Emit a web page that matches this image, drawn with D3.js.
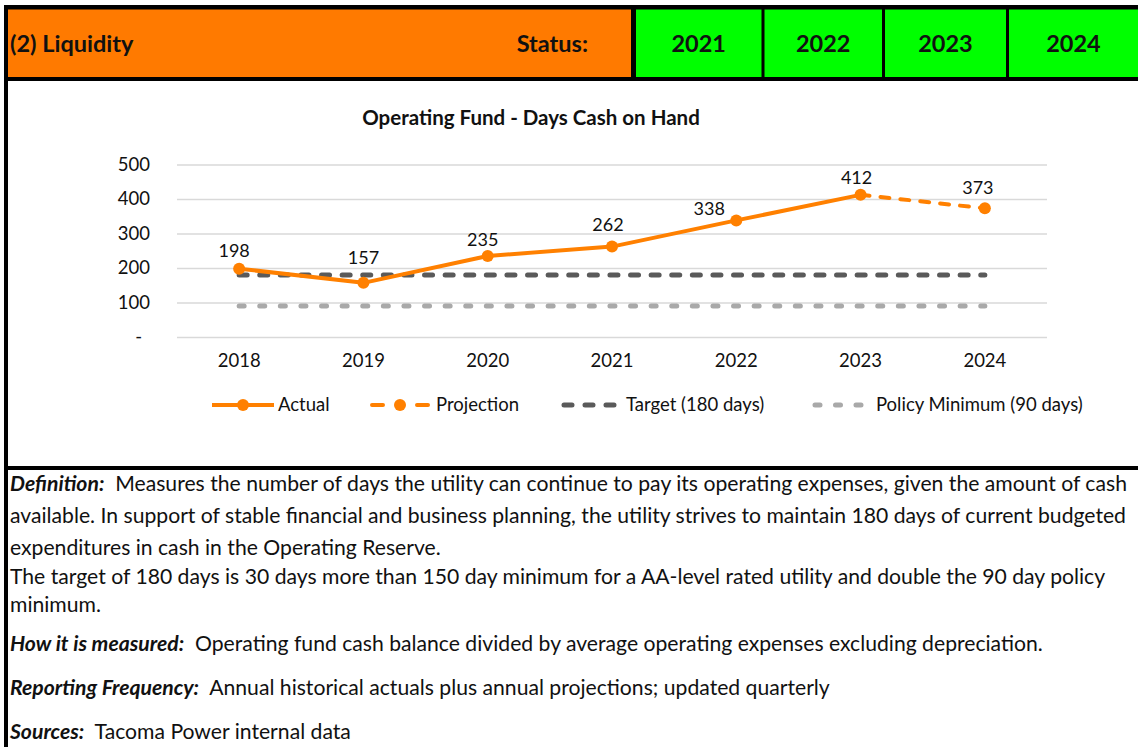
<!DOCTYPE html>
<html>
<head>
<meta charset="utf-8">
<script src="https://cdn.jsdelivr.net/npm/d3@7"></script>
<style>
  body { margin: 0; background: #fff; }
  svg { display: block; font-family: Lato, "Open Sans", sans-serif; }
</style>
</head>
<body>
<svg id="page" width="1138" height="747"></svg>
<script>
// ---- data ----
const years = ["2018", "2019", "2020", "2021", "2022", "2023", "2024"];
const actual = [198, 157, 235, 262, 338, 412, null];
const projection = [null, null, null, null, null, 412, 373];
const target = [180, 180, 180, 180, 180, 180, 180];
const policyMin = [90, 90, 90, 90, 90, 90, 90];
const yTicks = [0, 100, 200, 300, 400, 500];
const statusYears = ["2021", "2022", "2023", "2024"];
const legendLabels = ["Actual", "Projection", "Target (180 days)", "Policy Minimum (90 days)"];

const title = "Operating Fund - Days Cash on Hand";
const headerTitle = "(2) Liquidity";
const headerStatus = "Status:";

const notes = [
  { lead: "Definition:", text: "  Measures the number of days the utility can continue to pay its operating expenses, given the amount of cash", y: 491 },
  { lead: "", text: "available. In support of stable financial and business planning, the utility strives to maintain 180 days of current budgeted", y: 523 },
  { lead: "", text: "expenditures in cash in the Operating Reserve.", y: 555 },
  { lead: "", text: "The target of 180 days is 30 days more than 150 day minimum for a AA-level rated utility and double the 90 day policy", y: 584 },
  { lead: "", text: "minimum.", y: 612 },
  { lead: "How it is measured:", text: "  Operating fund cash balance divided by average operating expenses excluding depreciation.", y: 651 },
  { lead: "Reporting Frequency:", text: "  Annual historical actuals plus annual projections; updated quarterly", y: 695 },
  { lead: "Sources:", text: "  Tacoma Power internal data", y: 739 }
];

// ---- colours ----
const ORANGE = "#FF7A00";
const LINE_ORANGE = "#FF8000";
const GREEN = "#00FF00";
const DARK_GREY = "#5A5A5A";
const LIGHT_GREY = "#A9A9A9";

const CHART_FONT = 18.5;

const svg = d3.select("#page");
svg.append("rect").attr("width", 1138).attr("height", 747).attr("fill", "#fff");

// ---- header band ----
const header = svg.append("g");
header.append("rect").attr("x", 4).attr("y", 5).attr("width", 1134).attr("height", 76).attr("fill", "#000");
header.append("rect").attr("x", 8).attr("y", 9.5).attr("width", 623).attr("height", 67.5).attr("fill", ORANGE);

// green status cells (left/right edges)
const cellEdges = [[636, 761.5], [764.5, 882], [885, 1006], [1009, 1138]];
header.selectAll("rect.cell")
  .data(statusYears)
  .join("rect")
    .attr("class", "cell")
    .attr("x", (d, i) => cellEdges[i][0])
    .attr("y", 9.5)
    .attr("width", (d, i) => cellEdges[i][1] - cellEdges[i][0])
    .attr("height", 67.5)
    .attr("fill", GREEN);

header.selectAll("text.yr")
  .data(statusYears)
  .join("text")
    .attr("class", "yr")
    .attr("x", (d, i) => (cellEdges[i][0] + cellEdges[i][1]) / 2)
    .attr("y", 44)
    .attr("dy", "0.35em")
    .attr("text-anchor", "middle")
    .attr("font-weight", 700)
    .attr("font-size", 23.5)
    .attr("fill", "#111")
    .text(d => d);

header.append("text")
  .attr("x", 10).attr("y", 44).attr("dy", "0.35em")
  .attr("font-weight", 700).attr("font-size", 23.5).attr("fill", "#111")
  .text(headerTitle);

header.append("text")
  .attr("x", 588).attr("y", 44).attr("dy", "0.35em")
  .attr("text-anchor", "end")
  .attr("font-weight", 700).attr("font-size", 23.5).attr("fill", "#111")
  .text(headerStatus);

// left border and separator under the chart
svg.append("rect").attr("x", 4).attr("y", 5).attr("width", 4).attr("height", 742).attr("fill", "#000");
svg.append("rect").attr("x", 4).attr("y", 466).attr("width", 1134).attr("height", 4).attr("fill", "#000");

// ---- chart ----
const plot = { left: 177, right: 1047, top: 164.5, bottom: 337 };

const x = d3.scaleBand()
  .domain(years)
  .range([plot.left, plot.right]);

const y = d3.scaleLinear()
  .domain([0, 500])
  .range([plot.bottom, plot.top]);

const cx = d => x(d) + x.bandwidth() / 2;

svg.append("text")
  .attr("x", 531).attr("y", 118).attr("dy", "0.35em")
  .attr("text-anchor", "middle")
  .attr("font-weight", 700).attr("font-size", 20.5).attr("fill", "#111")
  .text(title);

// gridlines + y labels
const yAxis = svg.append("g")
  .attr("transform", `translate(${plot.left},0)`)
  .call(d3.axisLeft(y)
    .tickValues(yTicks)
    .tickSize(-(plot.right - plot.left))
    .tickPadding(27)
    .tickFormat(d => d === 0 ? "-" : d3.format(",")(d)));
yAxis.select(".domain").remove();
yAxis.selectAll(".tick line").attr("stroke", "#D9D9D9").attr("stroke-width", 1.3);
yAxis.selectAll(".tick text")
  .attr("font-size", CHART_FONT).attr("fill", "#111").attr("font-family", "Lato, sans-serif");
yAxis.selectAll(".tick text").filter(d => d === 0).attr("dx", -8);

// x labels
const xAxis = svg.append("g")
  .attr("transform", `translate(0,${plot.bottom})`)
  .call(d3.axisBottom(x).tickSize(0).tickPadding(17));
xAxis.select(".domain").remove();
xAxis.selectAll(".tick text")
  .attr("font-size", CHART_FONT).attr("fill", "#111").attr("font-family", "Lato, sans-serif");

const line = d3.line()
  .defined(d => d.v != null)
  .x(d => cx(d.year))
  .y(d => y(d.v));

const rows = arr => years.map((yr, i) => ({ year: yr, v: arr[i] }));

// policy minimum and target dashed lines
svg.append("path")
  .datum(rows(policyMin))
  .attr("d", line)
  .attr("fill", "none")
  .attr("stroke", LIGHT_GREY)
  .attr("stroke-width", 5)
  .attr("stroke-linecap", "round")
  .attr("stroke-dasharray", "5,15.6");

svg.append("path")
  .datum(rows(target))
  .attr("d", line)
  .attr("fill", "none")
  .attr("stroke", DARK_GREY)
  .attr("stroke-width", 5)
  .attr("stroke-linecap", "round")
  .attr("stroke-dasharray", "8,12.6");

// projection
svg.append("path")
  .datum(rows(projection))
  .attr("d", line)
  .attr("fill", "none")
  .attr("stroke", LINE_ORANGE)
  .attr("stroke-width", 4)
  .attr("stroke-linecap", "round")
  .attr("stroke-dasharray", "9,11");

// actual
svg.append("path")
  .datum(rows(actual))
  .attr("d", line)
  .attr("fill", "none")
  .attr("stroke", LINE_ORANGE)
  .attr("stroke-width", 4)
  .attr("stroke-linejoin", "round");

// markers
const points = years.map((yr, i) => ({ year: yr, v: actual[i] != null ? actual[i] : projection[i] }));
svg.selectAll("circle.pt")
  .data(points)
  .join("circle")
    .attr("class", "pt")
    .attr("cx", d => cx(d.year))
    .attr("cy", d => y(d.v))
    .attr("r", 6)
    .attr("fill", LINE_ORANGE);

// data labels (Excel placed a few of them slightly off-centre)
const labelShift = { "2018": [-5, -18], "2019": [0, -25], "2020": [-5, -16], "2021": [-4, -22],
                     "2022": [-27, -12], "2023": [-4, -17], "2024": [-7, -21] };
svg.selectAll("text.lbl")
  .data(points)
  .join("text")
    .attr("class", "lbl")
    .attr("x", d => cx(d.year) + labelShift[d.year][0])
    .attr("y", d => y(d.v) + labelShift[d.year][1])
    .attr("dy", "0.35em")
    .attr("text-anchor", "middle")
    .attr("font-size", 18)
    .attr("fill", "#111")
    .text(d => d.v);

// ---- legend ----
const legendY = 405;
const legend = svg.append("g");

// Actual
legend.append("line").attr("x1", 212).attr("x2", 274).attr("y1", legendY).attr("y2", legendY)
  .attr("stroke", LINE_ORANGE).attr("stroke-width", 4);
legend.append("circle").attr("cx", 243).attr("cy", legendY).attr("r", 6).attr("fill", LINE_ORANGE);

// Projection
legend.append("line").attr("x1", 372).attr("x2", 428).attr("y1", legendY).attr("y2", legendY)
  .attr("stroke", LINE_ORANGE).attr("stroke-width", 4).attr("stroke-linecap", "round")
  .attr("stroke-dasharray", "11,34");
legend.append("circle").attr("cx", 400).attr("cy", legendY).attr("r", 6).attr("fill", LINE_ORANGE);

// Target
legend.append("line").attr("x1", 564).attr("x2", 615).attr("y1", legendY).attr("y2", legendY)
  .attr("stroke", DARK_GREY).attr("stroke-width", 5).attr("stroke-linecap", "round")
  .attr("stroke-dasharray", "8,13");

// Policy
legend.append("line").attr("x1", 815).attr("x2", 864).attr("y1", legendY).attr("y2", legendY)
  .attr("stroke", LIGHT_GREY).attr("stroke-width", 5).attr("stroke-linecap", "round")
  .attr("stroke-dasharray", "5,15.5");

const legendTextX = [278, 436, 626, 876];
legend.selectAll("text")
  .data(legendLabels)
  .join("text")
    .attr("x", (d, i) => legendTextX[i])
    .attr("y", legendY)
    .attr("dy", "0.35em")
    .attr("font-size", CHART_FONT)
    .attr("fill", "#111")
    .text(d => d);

// ---- notes ----
const notesG = svg.append("g");
const noteText = notesG.selectAll("text")
  .data(notes)
  .join("text")
    .attr("x", 10)
    .attr("y", d => d.y)
    .attr("font-size", 18)
    .attr("fill", "#111")
    .attr("xml:space", "preserve")
    .style("white-space", "pre");

noteText.append("tspan")
  .attr("font-weight", 700)
  .attr("font-style", "italic")
  .text(d => d.lead);
noteText.append("tspan")
  .text(d => d.text);

// fit the first line to the width Excel used, then apply that size to all notes
const firstWidth = noteText.node().getComputedTextLength();
const fitted = 18 * 1118 / firstWidth;
noteText.attr("font-size", fitted);
</script>
</body>
</html>
